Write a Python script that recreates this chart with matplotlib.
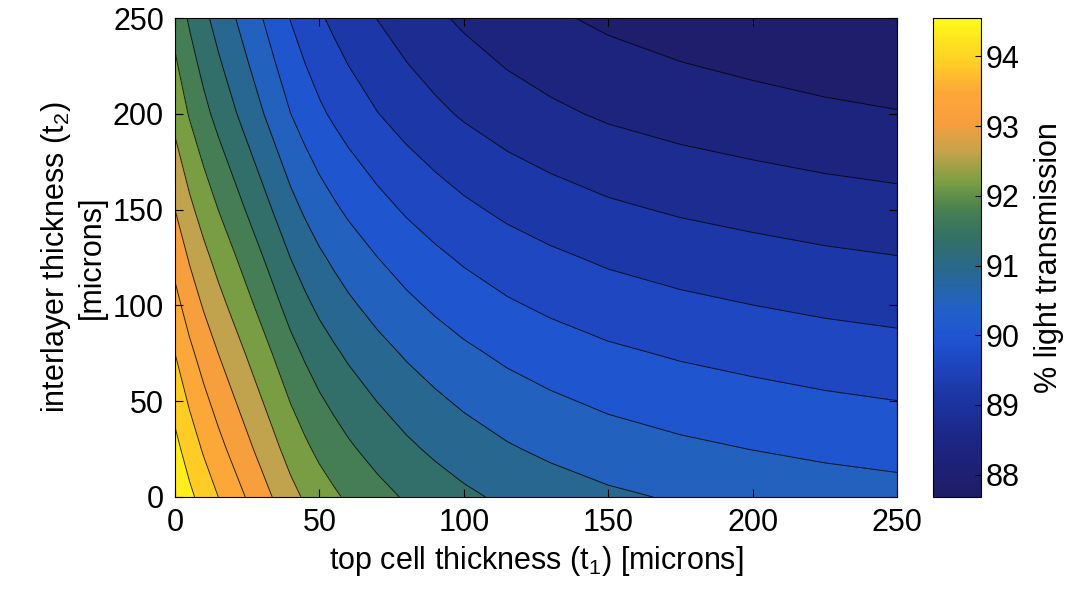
import numpy as np
import matplotlib
matplotlib.use('Agg')
import matplotlib.pyplot as plt
from matplotlib.colors import LinearSegmentedColormap, Normalize
from matplotlib.cm import ScalarMappable

plt.rcParams['font.family'] = ['Liberation Sans', 'DejaVu Sans']
plt.rcParams['mathtext.fontset'] = 'custom'
plt.rcParams['mathtext.rm'] = 'Liberation Sans'

# top cell thickness t1 (columns) and interlayer thickness t2 (rows), microns
t1 = [0, 5, 10, 15, 20, 25, 30, 35, 40, 45, 50, 55, 60, 70, 80, 90, 100,
      115, 130, 150, 175, 200, 225, 250]
t2 = [0, 25, 50, 75, 100, 125, 150, 175, 200, 225, 250]

# % light transmission, one row per t2 value
trans_t2_0 = [94.55, 94.22, 93.94, 93.69, 93.46, 93.23, 93.00, 92.77, 92.54, 92.35, 92.18, 92.04, 91.91, 91.69, 91.50, 91.34, 91.20, 91.03, 90.90, 90.76, 90.64, 90.55, 90.47, 90.41]
trans_t2_25 = [94.25, 93.92, 93.64, 93.39, 93.16, 92.93, 92.70, 92.47, 92.24, 92.05, 91.88, 91.74, 91.61, 91.39, 91.20, 91.04, 90.90, 90.73, 90.60, 90.46, 90.34, 90.25, 90.17, 90.11]
trans_t2_50 = [93.97, 93.64, 93.36, 93.11, 92.88, 92.65, 92.42, 92.19, 91.96, 91.77, 91.60, 91.46, 91.33, 91.11, 90.92, 90.76, 90.62, 90.45, 90.32, 90.18, 90.06, 89.97, 89.89, 89.83]
trans_t2_75 = [93.69, 93.36, 93.08, 92.83, 92.60, 92.37, 92.14, 91.91, 91.68, 91.49, 91.32, 91.18, 91.05, 90.83, 90.64, 90.48, 90.34, 90.17, 90.04, 89.90, 89.78, 89.69, 89.61, 89.55]
trans_t2_100 = [93.40, 93.07, 92.79, 92.54, 92.31, 92.08, 91.85, 91.62, 91.39, 91.20, 91.03, 90.89, 90.76, 90.54, 90.35, 90.19, 90.05, 89.88, 89.75, 89.61, 89.49, 89.40, 89.32, 89.26]
trans_t2_125 = [93.12, 92.79, 92.51, 92.26, 92.03, 91.80, 91.57, 91.34, 91.11, 90.92, 90.75, 90.61, 90.48, 90.26, 90.07, 89.91, 89.77, 89.60, 89.47, 89.33, 89.21, 89.12, 89.04, 88.98]
trans_t2_150 = [92.83, 92.50, 92.22, 91.97, 91.74, 91.51, 91.28, 91.05, 90.82, 90.63, 90.46, 90.32, 90.19, 89.97, 89.78, 89.62, 89.48, 89.31, 89.18, 89.04, 88.92, 88.83, 88.75, 88.69]
trans_t2_175 = [92.55, 92.22, 91.94, 91.69, 91.46, 91.23, 91.00, 90.77, 90.54, 90.35, 90.18, 90.04, 89.91, 89.69, 89.50, 89.34, 89.20, 89.03, 88.90, 88.76, 88.64, 88.55, 88.47, 88.41]
trans_t2_200 = [92.27, 91.94, 91.66, 91.41, 91.18, 90.95, 90.72, 90.49, 90.26, 90.07, 89.90, 89.76, 89.63, 89.41, 89.22, 89.06, 88.92, 88.75, 88.62, 88.48, 88.36, 88.27, 88.19, 88.13]
trans_t2_225 = [92.04, 91.71, 91.43, 91.18, 90.95, 90.72, 90.49, 90.26, 90.03, 89.84, 89.67, 89.53, 89.40, 89.18, 88.99, 88.83, 88.69, 88.52, 88.39, 88.25, 88.13, 88.04, 87.96, 87.90]
trans_t2_250 = [91.82, 91.49, 91.21, 90.96, 90.73, 90.50, 90.27, 90.04, 89.81, 89.62, 89.45, 89.31, 89.18, 88.96, 88.77, 88.61, 88.47, 88.30, 88.17, 88.03, 87.91, 87.82, 87.74, 87.68]

cbar_ticks = [88, 89, 90, 91, 92, 93, 94]

Z = np.array([trans_t2_0, trans_t2_25, trans_t2_50, trans_t2_75, trans_t2_100,
              trans_t2_125, trans_t2_150, trans_t2_175, trans_t2_200,
              trans_t2_225, trans_t2_250])
zmin, zmax = Z.min(), Z.max()

# colormap as it looks in the (printed) figure
anchors = [
    (87.68, (0.12, 0.11, 0.40)),
    (88.5, (0.11, 0.15, 0.52)),
    (89.2, (0.11, 0.22, 0.66)),
    (89.9, (0.12, 0.32, 0.82)),
    (90.4, (0.13, 0.38, 0.78)),
    (90.95, (0.16, 0.41, 0.55)),
    (91.4, (0.20, 0.44, 0.40)),
    (91.8, (0.28, 0.50, 0.32)),
    (92.2, (0.48, 0.62, 0.26)),
    (92.65, (0.78, 0.64, 0.30)),
    (93.05, (0.97, 0.62, 0.24)),
    (93.5, (0.99, 0.66, 0.22)),
    (93.9, (1.00, 0.80, 0.15)),
    (94.55, (1.00, 0.98, 0.10)),
]
cmap = LinearSegmentedColormap.from_list(
    'scan_parula', [((v - zmin) / (zmax - zmin), c) for v, c in anchors])
norm = Normalize(vmin=zmin, vmax=zmax)

levels = np.linspace(zmin, zmax, 17)

fig = plt.figure(figsize=(10.7, 6.03), dpi=100)
ax = fig.add_axes([0.1636, 0.1758, 0.6747, 0.7943])
cax = fig.add_axes([0.872, 0.1758, 0.045, 0.7943])

ax.contourf(t1, t2, Z, levels=levels, cmap=cmap, norm=norm)
ax.contour(t1, t2, Z, levels=levels[1:-1], colors='k', linewidths=0.7, alpha=0.8)

ax.set_xlim(0, 250)
ax.set_ylim(0, 250)
ax.set_xticks([0, 50, 100, 150, 200, 250])
ax.set_yticks([0, 50, 100, 150, 200, 250])
ax.tick_params(direction='in', length=6, width=0.8, labelsize=22,
               top=True, right=True, pad=8)
ax.set_xlabel('top cell thickness (t$_1$) [microns]', fontsize=22)
ax.set_ylabel('interlayer thickness (t$_2$)\n[microns]', fontsize=22)

cb = fig.colorbar(ScalarMappable(norm=norm, cmap=cmap), cax=cax, ticks=cbar_ticks)
cb.ax.tick_params(direction='in', length=4, labelsize=22)
cb.set_label('% light transmission', fontsize=22, labelpad=10)
cb.outline.set_linewidth(0.8)

fig.savefig('out.png', dpi=100)
